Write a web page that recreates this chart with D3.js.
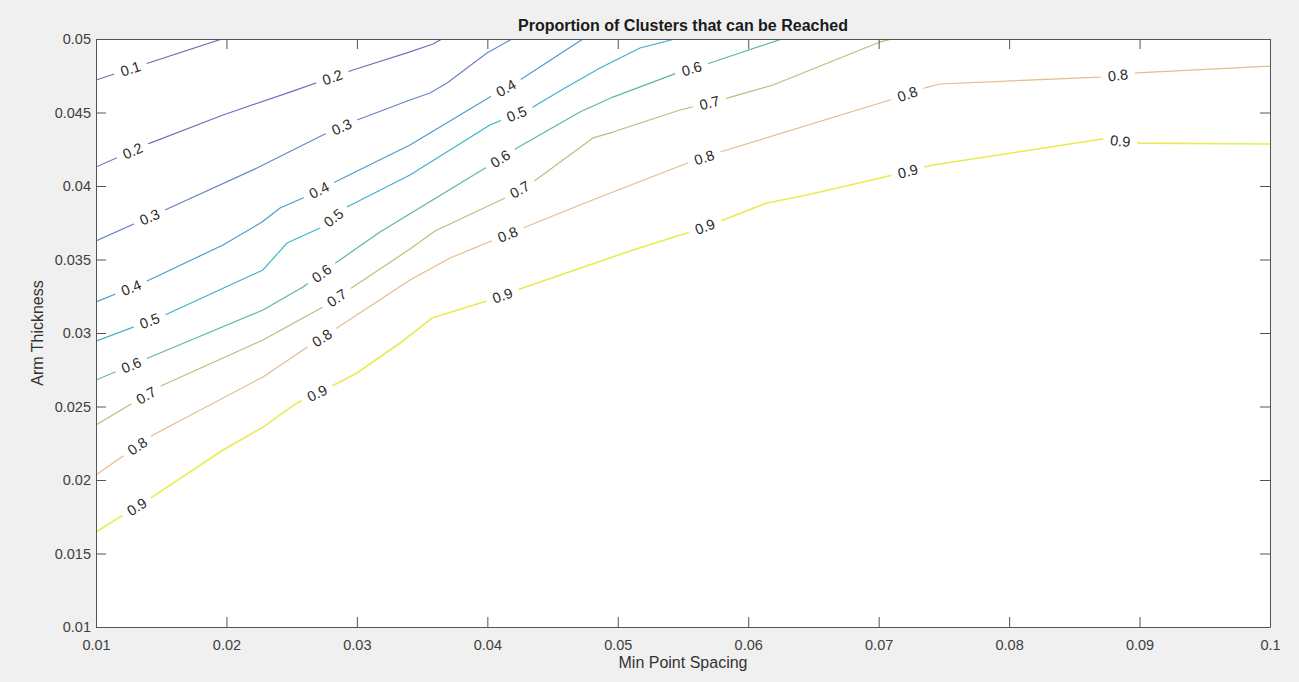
<!DOCTYPE html>
<html><head><meta charset="utf-8">
<script src="https://cdn.jsdelivr.net/npm/d3@7"></script>
<style>
html,body{margin:0;padding:0;background:#f0f0f0;}
svg{display:block;font-family:"Liberation Sans",Arial,Helvetica,sans-serif;}
</style></head><body>
<svg id="chart" width="1299" height="682"></svg>
<script>
// ---------- data ----------
const titleText = "Proportion of Clusters that can be Reached";
const xLabelText = "Min Point Spacing";
const yLabelText = "Arm Thickness";

const xTicks = [0.01,0.02,0.03,0.04,0.05,0.06,0.07,0.08,0.09,0.1];
const xTickLabels = ["0.01","0.02","0.03","0.04","0.05","0.06","0.07","0.08","0.09","0.1"];
const yTicks = [0.01,0.015,0.02,0.025,0.03,0.035,0.04,0.045,0.05];
const yTickLabels = ["0.01","0.015","0.02","0.025","0.03","0.035","0.04","0.045","0.05"];

const levels = [0.1,0.2,0.3,0.4,0.5,0.6,0.7,0.8,0.9];
const levelColors = ["#6f66b8","#7270bc","#6a84c6","#4c9dc8","#3cb3c8","#5cb5a8","#c4ba7c","#e4bc8c","#eaea52"];

// contour polylines: [Min Point Spacing, Arm Thickness]
const line01 = [[0.01,0.04721],[0.01966,0.05]];
const line02 = [[0.01,0.04129],[0.01414,0.04292],[0.01974,0.04483],[0.02487,0.04639],[0.0297,0.04789],[0.03407,0.04912],[0.03583,0.04966],[0.03652,0.05]];
const line03 = [[0.01,0.03626],[0.01529,0.03837],[0.02234,0.04122],[0.0274,0.04347],[0.03001,0.04449],[0.03407,0.04585],[0.0356,0.04633],[0.03691,0.04701],[0.03997,0.04905],[0.04189,0.05]];
const line04 = [[0.01,0.03211],[0.01376,0.03347],[0.01974,0.03599],[0.02273,0.03755],[0.02411,0.0385],[0.02587,0.03918],[0.02832,0.04027],[0.03407,0.04279],[0.0402,0.04605],[0.0425,0.04721],[0.04733,0.05]];
const line05 = [[0.01,0.02945],[0.01529,0.03122],[0.0228,0.03429],[0.02464,0.03612],[0.02717,0.03714],[0.02924,0.03857],[0.03407,0.04075],[0.0402,0.04415],[0.0435,0.04537],[0.04595,0.04667],[0.04864,0.04803],[0.0517,0.04939],[0.05439,0.05]];
const line06 = [[0.01,0.0268],[0.01399,0.0283],[0.0228,0.03156],[0.02587,0.03313],[0.02847,0.03483],[0.03177,0.03687],[0.03997,0.04129],[0.04227,0.04258],[0.0471,0.04503],[0.04963,0.04605],[0.05477,0.04776],[0.05707,0.04837],[0.06259,0.05]];
const line07 = [[0.01,0.02374],[0.01514,0.02646],[0.0228,0.02952],[0.0274,0.03177],[0.0297,0.03313],[0.03407,0.03571],[0.03599,0.03694],[0.0412,0.03912],[0.0435,0.04027],[0.0481,0.04327],[0.04963,0.04367],[0.05477,0.04517],[0.05845,0.04599],[0.0619,0.04687],[0.0701,0.0498],[0.07102,0.05]];
const line08 = [[0.01,0.02034],[0.01437,0.02306],[0.0228,0.02701],[0.02587,0.02884],[0.02847,0.03034],[0.03407,0.0336],[0.03714,0.0351],[0.04273,0.03714],[0.0471,0.03871],[0.04963,0.03959],[0.05554,0.04163],[0.05784,0.04231],[0.07087,0.04585],[0.07355,0.04667],[0.0747,0.04694],[0.08697,0.04741],[0.0898,0.04769],[0.1,0.04816]];
const line09 = [[0.01,0.01646],[0.01429,0.01884],[0.01974,0.02204],[0.0228,0.0236],[0.02541,0.02524],[0.02855,0.0266],[0.03,0.02728],[0.03331,0.02932],[0.03576,0.03102],[0.0402,0.03224],[0.04227,0.03292],[0.05117,0.03565],[0.05554,0.03687],[0.05807,0.03769],[0.06144,0.03884],[0.06451,0.03939],[0.0711,0.04075],[0.07417,0.04143],[0.08566,0.04299],[0.08712,0.0432],[0.09003,0.04292],[0.1,0.04286]];

// label anchor positions per level
const labels01 = [[0.01268,0.04789]];
const labels02 = [[0.01284,0.04231],[0.02817,0.04728]];
const labels03 = [[0.01414,0.03782],[0.02886,0.04395]];
const labels04 = [[0.01276,0.03292],[0.02717,0.03959],[0.04151,0.04653]];
const labels05 = [[0.01414,0.03075],[0.02817,0.03789],[0.04235,0.04469]];
const labels06 = [[0.01276,0.02769],[0.02733,0.03401],[0.04097,0.0419],[0.05569,0.04789]];
const labels07 = [[0.01391,0.02565],[0.02847,0.03238],[0.0425,0.03973],[0.05707,0.04551]];
const labels08 = [[0.01322,0.02224],[0.02733,0.02966],[0.04158,0.03667],[0.05669,0.04177],[0.07225,0.04612],[0.08835,0.04741]];
const labels09 = [[0.01314,0.01816],[0.02702,0.02578],[0.0412,0.03245],[0.05669,0.03721],[0.07225,0.04095],[0.0885,0.04292]];

const contourLines = [line01,line02,line03,line04,line05,line06,line07,line08,line09];
const contourLabels = [labels01,labels02,labels03,labels04,labels05,labels06,labels07,labels08,labels09];

// ---------- layout ----------
const svg = d3.select("#chart");
const M = {left:96, top:39, right:1270, bottom:627};
const x = d3.scaleLinear().domain([0.01,0.1]).range([M.left, M.right]);
const y = d3.scaleLinear().domain([0.01,0.05]).range([M.bottom, M.top]);

svg.append("rect").attr("width",1299).attr("height",682).attr("fill","#f0f0f0");
svg.append("rect").attr("x",M.left).attr("y",M.top)
  .attr("width",M.right-M.left).attr("height",M.bottom-M.top).attr("fill","#ffffff");

svg.append("clipPath").attr("id","clip").append("rect")
  .attr("x",M.left).attr("y",M.top).attr("width",M.right-M.left).attr("height",M.bottom-M.top);

const gLines = svg.append("g").attr("clip-path","url(#clip)");
const lineGen = d3.line().x(d=>x(d[0])).y(d=>y(d[1]));

contourLines.forEach((pts,i)=>{
  gLines.append("path").datum(pts).attr("d",lineGen)
    .attr("fill","none").attr("stroke",levelColors[i]).attr("stroke-width",i===8?1.6:1.2)
    .attr("stroke-linejoin","round");
});

// label placement along polylines
function locate(ptsPx, p){
  const cum=[0];
  for(let i=1;i<ptsPx.length;i++){
    cum.push(cum[i-1]+Math.hypot(ptsPx[i][0]-ptsPx[i-1][0], ptsPx[i][1]-ptsPx[i-1][1]));
  }
  let best=null;
  for(let i=0;i<ptsPx.length-1;i++){
    const a=ptsPx[i], b=ptsPx[i+1];
    const dx=b[0]-a[0], dy=b[1]-a[1];
    const L2=dx*dx+dy*dy;
    let t=L2>0?((p[0]-a[0])*dx+(p[1]-a[1])*dy)/L2:0; t=Math.max(0,Math.min(1,t));
    const q=[a[0]+t*dx,a[1]+t*dy];
    const d=(q[0]-p[0])**2+(q[1]-p[1])**2;
    if(!best||d<best.d) best={d,q,s:cum[i]+t*Math.sqrt(L2)};
  }
  function at(s){
    s=Math.max(0,Math.min(cum[cum.length-1],s));
    for(let i=0;i<ptsPx.length-1;i++){
      if(s<=cum[i+1]||i===ptsPx.length-2){
        const seg=cum[i+1]-cum[i]; const t=seg>0?(s-cum[i])/seg:0;
        return [ptsPx[i][0]+t*(ptsPx[i+1][0]-ptsPx[i][0]), ptsPx[i][1]+t*(ptsPx[i+1][1]-ptsPx[i][1])];
      }
    }
  }
  const p1=at(best.s-10), p2=at(best.s+10);
  let ang=Math.atan2(p2[1]-p1[1], p2[0]-p1[0])*180/Math.PI;
  if(ang>90) ang-=180; if(ang<-90) ang+=180;
  return {q:best.q, ang};
}

const gLab = svg.append("g");
contourLabels.forEach((labs,i)=>{
  const ptsPx = contourLines[i].map(d=>[x(d[0]),y(d[1])]);
  labs.forEach(l=>{
    const loc = locate(ptsPx,[x(l[0]),y(l[1])]);
    const g = gLab.append("g").attr("transform",`translate(${loc.q[0]},${loc.q[1]}) rotate(${loc.ang})`);
    const r = g.append("rect").attr("fill","#ffffff");
    const t = g.append("text").text(String(levels[i]))
      .attr("text-anchor","middle").attr("dy","0.36em")
      .attr("font-size","14.5px").attr("fill","#2a2a2a");
    const w = t.node().getComputedTextLength();
    r.attr("x",-w/2-7).attr("y",-6).attr("width",w+14).attr("height",12);
  });
});

// ---------- axes ----------
const axisColor = "#555555";
function styleAxis(g){
  g.select(".domain").attr("stroke",axisColor).attr("stroke-width",1);
  g.selectAll(".tick line").attr("stroke",axisColor);
  g.selectAll(".tick text").attr("fill","#404040").attr("font-size","14.5px")
    .attr("font-family",'"Liberation Sans",Arial,Helvetica,sans-serif');
}
const xAxis = d3.axisBottom(x).tickValues(xTicks).tickFormat((d,i)=>xTickLabels[i])
  .tickSizeInner(-10).tickSizeOuter(0).tickPadding(13);
svg.append("g").attr("transform",`translate(0,${M.bottom})`).call(xAxis).call(styleAxis);

const xAxisTop = d3.axisTop(x).tickValues(xTicks).tickFormat("")
  .tickSizeInner(-10).tickSizeOuter(0);
svg.append("g").attr("transform",`translate(0,${M.top})`).call(xAxisTop).call(styleAxis);

const yAxis = d3.axisLeft(y).tickValues(yTicks).tickFormat((d,i)=>yTickLabels[i])
  .tickSizeInner(-10).tickSizeOuter(0).tickPadding(5);
svg.append("g").attr("transform",`translate(${M.left},0)`).call(yAxis).call(styleAxis);

const yAxisRight = d3.axisRight(y).tickValues(yTicks).tickFormat("")
  .tickSizeInner(-10).tickSizeOuter(0);
svg.append("g").attr("transform",`translate(${M.right},0)`).call(yAxisRight).call(styleAxis);

// ---------- titles ----------
svg.append("text").text(titleText)
  .attr("x",(M.left+M.right)/2).attr("y",31)
  .attr("text-anchor","middle").attr("font-size","16px").attr("font-weight","bold").attr("fill","#1a1a1a");

svg.append("text").text(xLabelText)
  .attr("x",(M.left+M.right)/2).attr("y",668)
  .attr("text-anchor","middle").attr("font-size","16px").attr("fill","#333333");

svg.append("text").text(yLabelText)
  .attr("transform",`translate(43,${(M.top+M.bottom)/2}) rotate(-90)`)
  .attr("text-anchor","middle").attr("font-size","16px").attr("fill","#333333");
</script>
</body></html>
